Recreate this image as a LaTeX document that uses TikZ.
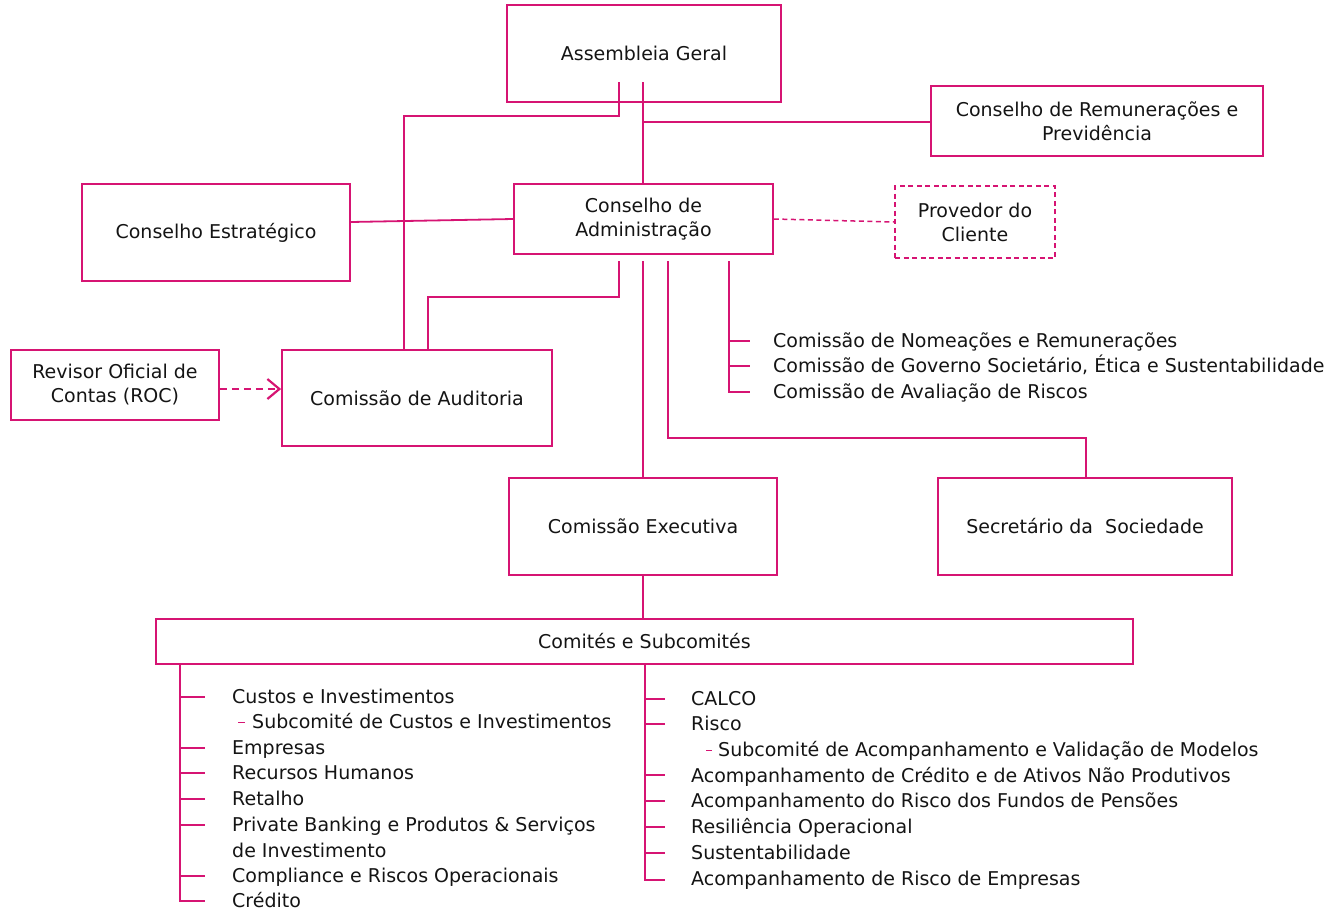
\documentclass[tikz,border=0pt]{standalone}
\usepackage{fontspec}
\setmainfont{DejaVu Sans}
\usetikzlibrary{arrows.meta}
\definecolor{pinkc}{RGB}{214,20,115}
\definecolor{txt}{RGB}{20,20,20}
\tikzset{
  box/.style={draw=pinkc, line width=1.8pt, inner sep=0pt, align=center, text=txt, font=\fontsize{19}{24}\selectfont},
  dbox/.style={box, dash pattern=on 5pt off 3.5pt, line width=1.5pt},
  conn/.style={draw=pinkc, line width=1.8pt},
  dconn/.style={draw=pinkc, line width=1.5pt, dash pattern=on 5pt off 3.5pt},
  item/.style={anchor=west, inner sep=0pt, text=txt, font=\fontsize{19}{24}\selectfont, text height=15pt, text depth=3pt},
}
\begin{document}
\begin{tikzpicture}[x=1pt,y=-1pt]
\useasboundingbox (0,0) rectangle (1329,910);
% boxes
\node[box, minimum width=274, minimum height=97] (AG) at (644,53.5) {Assembleia Geral};
\node[box, minimum width=332, minimum height=70] (CRP) at (1097,121) {Conselho de Remunerações e\\Previdência};
\node[box, minimum width=259, minimum height=70] (CA) at (643.5,219) {Conselho de\\Administração};
\node[box, minimum width=268, minimum height=97] (CES) at (216,232.5) {Conselho Estratégico};
\node[dbox, minimum width=160, minimum height=72] (PC) at (975,222) {Provedor do\\Cliente};
\node[box, minimum width=208, minimum height=70] (ROC) at (115,385) {Revisor Oficial de\\Contas (ROC)};
\node[box, minimum width=270, minimum height=96] (CAud) at (417,398) {Comissão de Auditoria};
\node[box, minimum width=268, minimum height=97] (CEx) at (643,526.5) {Comissão Executiva};
\node[box, minimum width=294, minimum height=97] (Sec) at (1085,526.5) {Secretário da\ \ Sociedade};
\node[box, minimum width=977, minimum height=45] (Com) at (644.5,641.5) {Comités e Subcomités};

% connectors from Assembleia Geral
\coordinate (ag1) at (619,82);
\coordinate (ag2) at (643,82);
\draw[conn] (ag1) -- (619,116) -- (404,116) -- (404,116 |- CAud.north);
\draw[conn] (ag2) -- (ag2 |- CA.north);
\draw[conn] (643,122) -- (643,122 -| CRP.west);
% Conselho Estrategico
\draw[conn] (CES.east |- 0,222) -- (CA.west);
% Provedor
\draw[dconn] (CA.east) -- (PC.west);
% from Conselho de Administracao
\coordinate (ca1) at (619,261);
\coordinate (ca2) at (643,261);
\coordinate (ca3) at (668,261);
\coordinate (ca4) at (729,261);
\draw[conn] (ca1) -- (619,297) -- (428,297) -- (428,297 |- CAud.north);
\draw[conn] (ca2) -- (ca2 |- CEx.north);
\draw[conn] (ca3) -- (668,438) -- (1086,438) -- (1086,438 |- Sec.north);
\draw[conn] (ca4) -- (729,392) -- (750,392);
\draw[conn] (729,341) -- (750,341);
\draw[conn] (729,366) -- (750,366);
\node[item] (cn1) at (773,341) {Comissão de Nomeações e Remunerações};
\node[item] (cn2) at (773,366) {Comissão de Governo Societário, Ética e Sustentabilidade};
\node[item] (cn3) at (773,392) {Comissão de Avaliação de Riscos};
% ROC arrow
\draw[draw=pinkc, line width=2.6pt, dash pattern=on 7pt off 5pt, -{Straight Barb[length=12pt,width=20pt,line width=2.2pt]}] ([yshift=-4pt]ROC.east) -- ([yshift=-4pt]ROC.east -| CAud.west);
% Executiva to Comites
\draw[conn] (CEx.south) -- (CEx.south |- Com.north);

% left list
\draw[conn] (180,664) -- (180,901) -- (205,901);
\foreach \yy in {697,748,773,799,825,876} \draw[conn] (180,\yy) -- (205,\yy);
\node[item] (l1) at (232,697) {Custos e Investimentos};
\draw[draw=pinkc, line width=1pt] (238,722) -- (245,722);
\node[item] (l2) at (252,722) {Subcomité de Custos e Investimentos};
\node[item] (l3) at (232,748) {Empresas};
\node[item] (l4) at (232,773) {Recursos Humanos};
\node[item] (l5) at (232,799) {Retalho};
\node[item] (l6) at (232,825) {Private Banking e Produtos \& Serviços};
\node[item] (l7) at (232,851) {de Investimento};
\node[item] (l8) at (232,876) {Compliance e Riscos Operacionais};
\node[item] (l9) at (232,901) {Crédito};

% right list
\draw[conn] (645,664) -- (645,880) -- (665,880);
\foreach \yy in {699,724,775,801,827,853} \draw[conn] (645,\yy) -- (665,\yy);
\node[item] (r1) at (691,699) {CALCO};
\node[item] (r2) at (691,724) {Risco};
\draw[draw=pinkc, line width=1pt] (706,750) -- (712,750);
\node[item] (r3) at (718,750) {Subcomité de Acompanhamento e Validação de Modelos};
\node[item] (r4) at (691,776) {Acompanhamento de Crédito e de Ativos Não Produtivos};
\node[item] (r5) at (691,801) {Acompanhamento do Risco dos Fundos de Pensões};
\node[item] (r6) at (691,827) {Resiliência Operacional};
\node[item] (r7) at (691,853) {Sustentabilidade};
\node[item] (r8) at (691,879) {Acompanhamento de Risco de Empresas};
\end{tikzpicture}
\end{document}
